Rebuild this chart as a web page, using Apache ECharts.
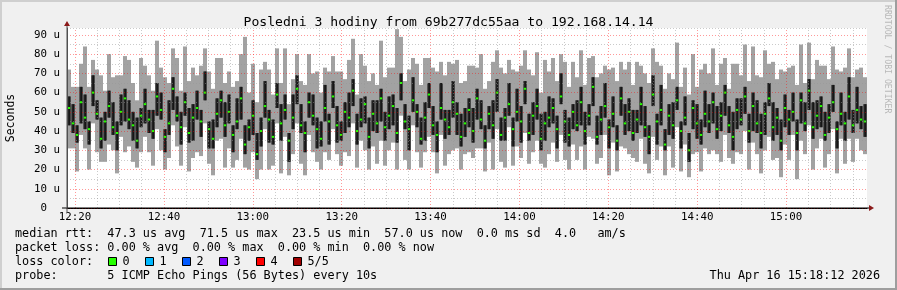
<!DOCTYPE html>
<html><head><meta charset="utf-8">
<script src="https://cdn.jsdelivr.net/npm/echarts@6/dist/echarts.min.js"></script>
<style>html,body{margin:0;padding:0;background:#f0f0f0}#c{width:897px;height:290px}</style>
</head><body><div id="c"></div><script>
// time axis in minutes after 12:00; window 12:18:12 - 15:18:12
const startMin = 18.2;
const endMin = 198.2;
const stepMin = 0.9;
const timeTickLabels = [20, 40, 60, 80, 100, 120, 140, 160, 180];

const pingMin = [
31,31,19,38,31,20,44,29,24,24,33,30,18,37,29,32,24,21,29,37,
29,22,41,30,20,26,43,32,22,42,19,26,29,27,44,23,17,35,36,21,
31,21,25,36,21,20,29,15,20,41,20,22,44,18,37,17,28,44,23,17,
38,29,24,20,29,25,41,28,22,29,27,44,21,35,30,20,32,23,35,22,
30,34,20,48,25,20,43,29,21,29,37,29,18,38,22,28,30,31,20,28,
29,26,31,31,19,34,20,41,24,21,42,22,32,26,39,23,29,35,23,21,
28,34,24,38,25,20,33,25,32,20,37,36,23,26,38,17,34,19,32,31,
28,26,24,36,23,18,37,25,32,17,32,21,42,19,33,16,28,29,19,31,
28,30,28,24,38,26,23,29,28,40,20,34,28,18,30,37,25,26,16,33,
25,38,15,35,28,43,20,31,36,21,28,41,18,36,23,36,24,36,30,28];
const pingQ1 = [
43,39,34,44,41,33,53,46,31,35,47,38,30,43,45,41,35,31,42,44,
39,36,48,46,29,38,51,45,33,48,34,35,46,37,56,31,31,42,47,37,
44,29,41,46,28,35,38,25,32,47,34,33,52,35,46,24,41,54,39,29,
47,43,31,32,45,33,52,34,35,39,42,53,33,42,44,31,40,39,45,35,
41,43,34,56,41,30,50,42,33,35,52,38,29,46,36,38,47,38,32,37,
42,34,46,41,31,41,36,50,35,35,48,32,45,34,54,35,38,46,30,35,
42,44,31,54,34,32,41,40,43,33,43,53,33,38,47,31,42,30,48,38,
40,35,39,43,37,28,53,33,43,30,38,36,51,31,43,24,41,36,33,42,
39,44,36,40,48,39,30,41,43,49,34,40,39,31,38,53,35,38,30,42,
38,45,30,44,40,51,36,41,42,35,39,50,31,43,35,46,39,44,41,37];
const pingMedian = [
52,44,38,55,47,41,60,49,36,45,53,42,39,50,57,46,43,35,48,54,
46,40,58,51,37,44,62,48,42,55,39,47,52,45,60,41,36,49,56,43,
50,38,45,57,33,42,48,28,40,53,46,37,59,44,51,35,47,62,43,39,
55,48,41,36,52,45,58,43,38,50,47,61,40,46,54,37,49,44,57,42,
48,53,39,65,45,41,56,50,36,47,59,43,38,52,46,42,55,49,37,44,
51,40,57,46,35,49,43,60,38,47,54,41,50,45,62,39,48,53,36,44,
47,52,41,58,45,38,50,43,55,40,48,63,37,46,53,42,49,35,57,44,
50,39,46,54,42,37,59,45,51,33,48,43,56,40,47,30,52,44,38,49,
45,55,41,48,60,43,37,51,46,58,40,53,44,39,49,57,42,47,35,52,
46,50,39,56,44,61,42,48,53,38,47,55,41,49,44,58,43,51,46,45];
const pingQ3 = [
58,54,43,63,59,45,69,56,47,50,61,55,45,59,62,56,50,47,52,62,
51,51,65,60,41,56,68,58,50,60,52,54,61,51,71,45,46,57,61,55,
59,43,57,63,43,46,56,39,47,66,51,46,65,54,59,39,59,69,54,45,
60,59,47,45,64,49,66,53,45,55,60,67,49,57,58,47,56,56,62,50,
58,59,52,70,54,48,68,54,47,55,65,53,45,65,51,51,66,55,49,52,
57,52,62,56,43,53,56,67,47,52,65,47,62,53,66,49,55,62,49,50,
58,57,48,70,51,47,54,56,63,50,54,68,48,53,65,46,58,43,63,54,
57,51,51,63,53,43,69,49,64,41,54,55,63,45,58,39,56,54,46,61,
54,60,53,55,64,53,50,57,57,63,49,60,56,49,55,65,55,52,46,59,
51,60,46,60,55,67,55,56,58,50,54,64,45,60,50,68,51,63,53,54];
const pingMax = [
72,63,63,75,84,63,77,72,69,61,80,68,69,69,79,77,65,56,78,74,
69,61,87,73,68,65,83,78,61,84,66,73,69,74,83,71,62,78,78,65,
71,63,66,80,89,60,75,55,72,76,72,59,83,65,83,54,67,80,66,64,
80,70,71,60,73,71,79,71,71,67,77,88,59,80,74,66,70,64,87,68,
73,73,93,89,66,72,78,75,64,78,78,73,71,76,69,76,75,77,65,66,
74,74,73,80,62,66,76,82,73,70,77,72,71,74,82,72,69,81,60,77,
71,78,66,80,76,63,76,68,82,64,78,79,68,70,74,72,73,66,76,72,
76,64,76,74,70,65,83,76,74,62,70,67,86,63,73,59,80,63,72,75,
70,83,64,75,78,62,75,75,69,85,66,84,69,68,82,75,76,67,72,71,
73,74,64,85,65,86,67,77,74,74,67,84,72,71,73,83,68,72,73,68];

const lossLabels = ['0', '1', '2', '3', '4', '5/5'];
const lossColors = ['#26ff00', '#00b8ff', '#0059ff', '#7e00ff', '#ff0000', '#a00000'];

const FONT = 'DejaVu Sans Mono';
const data = pingMedian.map((m, i) => [startMin + stepMin * (i + 0.5), pingMin[i], pingQ1[i], m, pingQ3[i], pingMax[i]]);

const minorTimes = [];
for (let t = 20; t < endMin; t += 5) minorTimes.push(t);

function fmtTime(v) {
  const h = 12 + Math.floor(v / 60), m = Math.round(v % 60);
  return h + ':' + (m < 10 ? '0' : '') + m;
}

const chart = echarts.init(document.getElementById('c'), null, {renderer: 'canvas'});
chart.setOption({
  backgroundColor: '#f0f0f0',
  animation: false,
  title: {
    text: 'Posledni 3 hodiny from 69b277dc55aa to 192.168.14.14',
    left: 'center', top: 11,
    textStyle: {fontFamily: FONT, fontSize: 13.1, fontWeight: 'normal', color: '#000'}
  },
  grid: {left: 67, right: 30, top: 28, bottom: 82, containLabel: false, outerBoundsMode: 'none',
         show: true, backgroundColor: '#ffffff', borderWidth: 0},
  xAxis: {
    type: 'value', min: startMin, max: endMin,
    axisLine: {show: true, lineStyle: {color: '#000', width: 1}},
    axisTick: {show: false},
    splitLine: {show: false},
    axisLabel: {
      customValues: timeTickLabels, formatter: fmtTime,
      fontFamily: FONT, fontSize: 10.8, color: '#000', margin: 4
    }
  },
  yAxis: {
    type: 'value', min: 0, max: 93.6, interval: 5, z: 6,
    name: 'Seconds', nameLocation: 'middle', nameGap: 50,
    nameTextStyle: {fontFamily: FONT, fontSize: 11.5, color: '#000'},
    axisLine: {show: true, lineStyle: {color: '#505050', width: 1}},
    axisTick: {show: false},
    axisLabel: {
      fontFamily: FONT, fontSize: 10.8, color: '#000', margin: 7,
      formatter: v => (v % 10 !== 0 ? '' : (v === 0 ? '0  ' : v + ' u'))
    },
    splitLine: {show: true, lineStyle: {color: ['rgba(255,0,0,0.4)', 'rgba(150,150,150,0.5)'], type: [1, 2], width: 1}}
  },
  series: [
    {
      type: 'custom', z: 2, clip: true,
      data: data,
      renderItem: function (params, api) {
        const t = api.value(0);
        const a = api.coord([t - stepMin / 2, api.value(1)]);
        const b = api.coord([t + stepMin / 2, api.value(5)]);
        const q1 = api.coord([t, api.value(2)]);
        const q3 = api.coord([t, api.value(4)]);
        const md = api.coord([t, api.value(3)]);
        const w = b[0] - a[0];
        return {
          type: 'group',
          children: [
            {type: 'rect', shape: {x: a[0], y: b[1], width: w, height: a[1] - b[1]}, style: {fill: '#a2a2a2'}},
            {type: 'rect', shape: {x: a[0], y: q3[1], width: w, height: q1[1] - q3[1]}, style: {fill: '#555555'}},
            {type: 'rect', shape: {x: a[0] + w * 0.3, y: q3[1], width: 2, height: q1[1] - q3[1]}, style: {fill: '#161616'}},
            {type: 'rect', shape: {x: md[0] - 1.2, y: md[1] - 1, width: 2.4, height: 2}, style: {fill: lossColors[0]}}
          ]
        };
      }
    },
    {
      type: 'line', data: [], z: 5, silent: true,
      markLine: {
        silent: true, symbol: 'none', label: {show: false}, animation: false,
        data: minorTimes.map(t => ({
          xAxis: t,
          lineStyle: {color: (t % 20 === 0) ? 'rgba(255,0,0,0.4)' : 'rgba(150,150,150,0.5)', type: [1, 2], width: 1}
        }))
      }
    }
  ]
});

// decorations: axis arrows, legend, credits, frame
const o = chart.convertToPixel({gridIndex: 0}, [startMin, 0]);
const tr = chart.convertToPixel({gridIndex: 0}, [endMin, 93.6]);
const textStyle = (s, x, y, extra) => Object.assign({type: 'text', x: x, y: y,
  style: Object.assign({text: s, fontFamily: FONT, fontSize: 11.8, fill: '#000', verticalAlign: 'middle'}, extra || {})});

const g = [
  {type: 'line', shape: {x1: o[0] - 5, y1: o[1], x2: tr[0] + 3, y2: o[1]}, style: {stroke: '#000', lineWidth: 1}, z: 10},
  {type: 'line', shape: {x1: o[0], y1: o[1] + 4, x2: o[0], y2: tr[1] - 5}, style: {stroke: '#505050', lineWidth: 1}, z: 10},
  {type: 'polygon', shape: {points: [[tr[0] + 2, o[1] - 3], [tr[0] + 7, o[1]], [tr[0] + 2, o[1] + 3]]}, style: {fill: '#8b1a1a'}, z: 10},
  {type: 'polygon', shape: {points: [[o[0] - 3, tr[1] - 2], [o[0], tr[1] - 7], [o[0] + 3, tr[1] - 2]]}, style: {fill: '#8b1a1a'}, z: 10},
  textStyle('median rtt:  47.3 us avg  71.5 us max  23.5 us min  57.0 us now  0.0 ms sd  4.0   am/s', 15, 234),
  textStyle('packet loss: 0.00 % avg  0.00 % max  0.00 % min  0.00 % now', 15, 248),
  textStyle('loss color:', 15, 262),
  textStyle('probe:       5 ICMP Echo Pings (56 Bytes) every 10s', 15, 276),
  textStyle('Thu Apr 16 15:18:12 2026', 880, 276, {align: 'right'}),
  {type: 'text', x: 887, y: 5, rotation: -Math.PI / 2,
   style: {text: 'RRDTOOL / TOBI OETIKER', fontFamily: FONT, fontSize: 8.2, fill: '#b8b8b8', verticalAlign: 'middle', align: 'left'}},
  {type: 'rect', shape: {x: 0, y: 0, width: 897, height: 2}, style: {fill: '#cfcfcf'}},
  {type: 'rect', shape: {x: 0, y: 0, width: 2, height: 290}, style: {fill: '#cfcfcf'}},
  {type: 'rect', shape: {x: 0, y: 288, width: 897, height: 2}, style: {fill: '#9e9e9e'}},
  {type: 'rect', shape: {x: 895, y: 0, width: 2, height: 290}, style: {fill: '#9e9e9e'}}
];
lossLabels.forEach((lab, i) => {
  const bx = 108.5 + i * 37;
  g.push({type: 'rect', shape: {x: bx, y: 257.5, width: 8, height: 8}, style: {fill: lossColors[i], stroke: '#000', lineWidth: 1}});
  g.push(textStyle(lab, bx + 14, 262));
});
chart.setOption({graphic: g});
</script></body></html>
